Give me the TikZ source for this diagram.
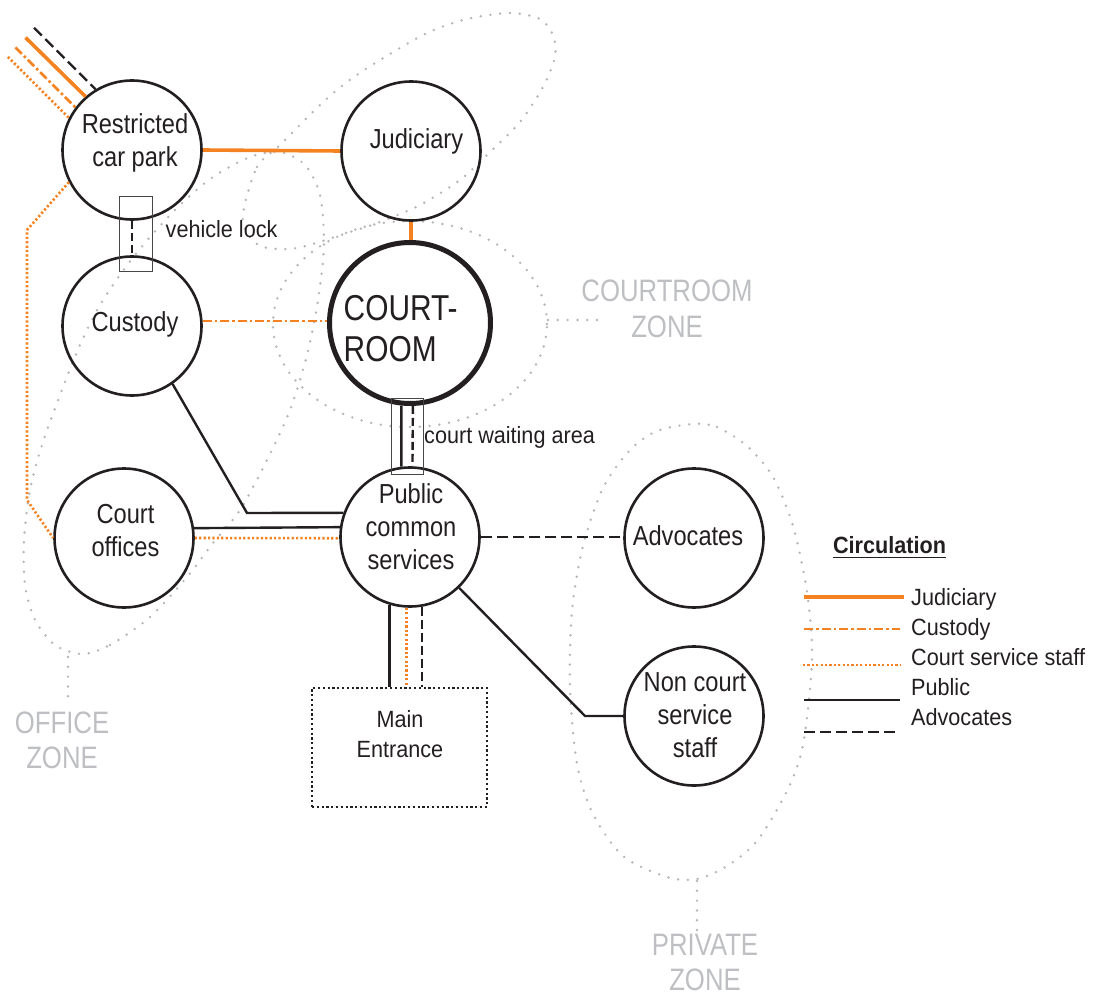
\documentclass[tikz,border=0pt]{standalone}
\usepackage{fontspec}
\setmainfont{Liberation Sans}
\newfontfamily\roomfont[FakeStretch=0.86]{Liberation Sans}
\newfontfamily\smallfont[FakeStretch=0.92]{Liberation Sans}
\newfontfamily\bigroomfont[FakeStretch=0.83]{Liberation Sans}
\newfontfamily\zonefont[FakeStretch=0.83]{Liberation Sans}
\usetikzlibrary{calc}
\definecolor{orng}{RGB}{245,130,32}
\definecolor{ink}{RGB}{35,31,32}
\definecolor{zonedot}{RGB}{180,182,186}
\definecolor{zonetext}{RGB}{190,191,195}
\definecolor{boxline}{RGB}{70,70,70}
\tikzset{
  room/.style={circle, draw=ink, line width=2.6pt, minimum size=139pt, inner sep=0pt},
  roomtxt/.style={align=center, text=ink, inner sep=0pt, font=\roomfont\fontsize{27.5}{33}\selectfont},
  smalltxt/.style={text=ink, inner sep=0pt, font=\smallfont\fontsize{23.5}{30}\selectfont},
  zonetxt/.style={align=center, text=zonetext, inner sep=0pt, font=\zonefont\fontsize{31}{35.5}\selectfont},
  zoneline/.style={draw=zonedot, line width=2.7pt, line cap=round, dash pattern=on 0pt off 9.8pt},
  lockbox/.style={draw=boxline, line width=1pt, inner sep=0pt},
  judicline/.style={draw=orng, line width=3.6pt},
  custline/.style={draw=orng, line width=2.6pt, dash pattern=on 9pt off 3pt on 2.5pt off 3pt},
  staffline/.style={draw=orng, line width=2.6pt, dash pattern=on 2.2pt off 2.2pt},
  publine/.style={draw=ink, line width=2.4pt},
  advline/.style={draw=ink, line width=2.4pt, dash pattern=on 11pt off 5pt},
}
\begin{document}
\begin{tikzpicture}[x=1pt, y=-1pt]
\useasboundingbox (0,0) rectangle (1093,998);

% ---------- zones ----------
\draw[zoneline] plot[smooth cycle] coordinates {(82,654) (110,645) (150,617) (187,577) (213,543) (240,510) (267,460) (290,410) (307,355) (318,300) (324,245) (320,195) (305,165) (280,152) (250,157) (213,177) (180,205) (150,237) (125,268) (100,305) (80,345) (60,395) (42,445) (30,490) (24,540) (25,585) (35,620) (55,645)};
\draw[zoneline] plot[smooth cycle] coordinates {(243,213) (257,167) (280,145) (320,105) (347,82) (380,60) (427,33) (467,19) (510,13) (540,19) (553,35) (555,57) (543,87) (520,122) (490,152) (460,180) (420,205) (380,222) (347,233) (297,248) (263,247) (247,233)};
\draw[zoneline] (410,324) ellipse [x radius=137pt, y radius=103pt];
\draw[zoneline] plot[smooth cycle] coordinates {(693,424) (717,427) (747,446) (773,477) (793,526) (807,592) (812,660) (803,745) (787,791) (757,841) (727,866) (697,879) (667,877) (623,856) (593,814) (577,764) (570,687) (572,611) (583,546) (603,488) (630,450) (657,431)};

\coordinate (ctA) at (548,320); \coordinate (ctB) at (598,320);
\coordinate (otA) at (68,657);  \coordinate (otB) at (68,705);
\coordinate (ptA) at (697,881); \coordinate (ptB) at (697,930);
\draw[zoneline] (ctA) -- (ctB);
\draw[zoneline] (otA) -- (otB);
\draw[zoneline] (ptA) -- (ptB);

\node[zonetxt] (courtZ) at (667,309) {COURTROOM\\ZONE};
\node[zonetxt] (officeZ) at (62,740.5) {OFFICE\\ZONE};
\node[zonetxt] (privateZ) at (705,962.5) {PRIVATE\\ZONE};

% ---------- rooms ----------
\node[room] (carpark) at (132,150) {};
\node[room] (judic) at (411,151) {};
\node[circle, draw=ink, line width=5pt, minimum size=161pt, inner sep=0pt] (court) at (410,323) {};
\node[room] (custody) at (132,326) {};
\node[room] (offices) at (124,538) {};
\node[room] (public) at (410,537) {};
\node[room] (advoc) at (694,538) {};
\node[room] (noncourt) at (694,716) {};
\node[draw=ink, line width=2.2pt, dash pattern=on 2.2pt off 2.6pt, minimum width=175pt, minimum height=119pt, inner sep=0pt] (entrance) at (399.5,747.5) {};

\node[lockbox, minimum width=33pt, minimum height=75pt] (vlock) at (135.5,233.5) {};
\node[lockbox, minimum width=32pt, minimum height=76pt] (wait) at (407,436) {};

% ---------- texts ----------
\node[roomtxt] (carparkT) at (135,142.5) {Restricted\\car park};
\node[roomtxt] (judicT) at (416.5,141) {Judiciary};
\node[align=left, text=ink, inner sep=0pt, font=\bigroomfont\fontsize{36}{41.5}\selectfont, anchor=west] (courtT) at (343.5,328.7) {COURT-\\ROOM};
\node[roomtxt] (custodyT) at (135,324.5) {Custody};
\node[roomtxt] (officesT) at (125.5,530.6) {Court\\offices};
\node[roomtxt] (publicT) at (411,526.6) {Public\\common\\services};
\node[roomtxt] (advocT) at (688,536) {Advocates};
\node[roomtxt] (noncourtT) at (695,715) {Non court\\service\\staff};
\node[smalltxt, align=center] (entranceT) at (400,734.5) {Main\\Entrance};
\node[smalltxt, anchor=base west] (vlockT) at (165.5,237.3) {vehicle lock};
\node[smalltxt, anchor=base west] (waitT) at (424,443.3) {court waiting area};

% ---------- incoming lines to car park ----------
\coordinate (inAdv) at ($(carpark.121.9)+(-61.5,-61.5)$);
\coordinate (inJud) at ($(carpark.131.6)+(-60,-59)$);
\coordinate (inCus) at ($(carpark.143.9)+(-60,-60)$);
\coordinate (inSta) at ($(carpark.153.4)+(-61,-61)$);
\draw[advline] (inAdv) -- (carpark.121.9);
\draw[judicline] (inJud) -- (carpark.131.6);
\draw[custline] (inCus) -- (carpark.143.9);
\draw[staffline] (inSta) -- (carpark.153.4);

% ---------- circulation ----------
\draw[judicline] (carpark.east) -- (judic.west);
\draw[judicline] (judic.south) -- (judic.south |- court.north);
\draw[custline] (custody.4) -- (custody.4 -| court.west);
\draw[advline, dash pattern=on 8pt off 4pt] (carpark.south) -- (custody.north);

\coordinate (bendA) at (247,513);
\draw[publine] (custody.-55.5) -- (bendA) -- (public.160.2);
\draw[publine] (offices.8.2) -- (public.172.7);
\draw[staffline] (offices.-0.8) -- (public.181.6);

\coordinate (staffA) at (27,230);
\coordinate (staffB) at (27,500);
\draw[staffline] (carpark.207.3) -- (staffA) -- (staffB) -- (offices.west);

\draw[publine] (court.-96.2) -- (public.97.3);
\draw[advline, dash pattern=on 8pt off 4pt] (court.-88.6) -- (public.88.4);

\draw[advline] (public.east) -- (public.east -| advoc.west);

\coordinate (bendB) at (585,716);
\draw[publine] (public.-46) -- (bendB) -- (noncourt.west);

\draw[publine] (public.-107.2) -- (public.-107.2 |- entrance.north);
\draw[staffline] (public.-93.2) -- (public.-93.2 |- entrance.north);
\draw[advline, dash pattern=on 9pt off 4pt] (public.-80.3) -- (public.-80.3 |- entrance.north);

% ---------- legend ----------
\node[text=ink, inner sep=0pt, font=\smallfont\bfseries\fontsize{23.5}{30}\selectfont, anchor=base] (circT) at (889.5,553) {Circulation};
\draw[ink, line width=1.8pt] ([yshift=-4.5pt]circT.base west) -- ([yshift=-4.5pt]circT.base east);

\coordinate (lg1a) at (804,597); \coordinate (lg1b) at (904,597);
\coordinate (lg2a) at (804,629); \coordinate (lg2b) at (900,629);
\coordinate (lg3a) at (803,665); \coordinate (lg3b) at (900,665);
\coordinate (lg4a) at (804,700); \coordinate (lg4b) at (900,700);
\coordinate (lg5a) at (804,732); \coordinate (lg5b) at (900,732);
\draw[judicline] (lg1a) -- (lg1b);
\draw[custline] (lg2a) -- (lg2b);
\draw[staffline] (lg3a) -- (lg3b);
\draw[publine] (lg4a) -- (lg4b);
\draw[advline] (lg5a) -- (lg5b);

\node[smalltxt, anchor=base west] (lgt1) at (911,605) {Judiciary};
\node[smalltxt, anchor=base west] (lgt2) at (911,635) {Custody};
\node[smalltxt, anchor=base west] (lgt3) at (911,665.5) {Court service staff};
\node[smalltxt, anchor=base west] (lgt4) at (911,695.5) {Public};
\node[smalltxt, anchor=base west] (lgt5) at (911,725.5) {Advocates};
\end{tikzpicture}
\end{document}
